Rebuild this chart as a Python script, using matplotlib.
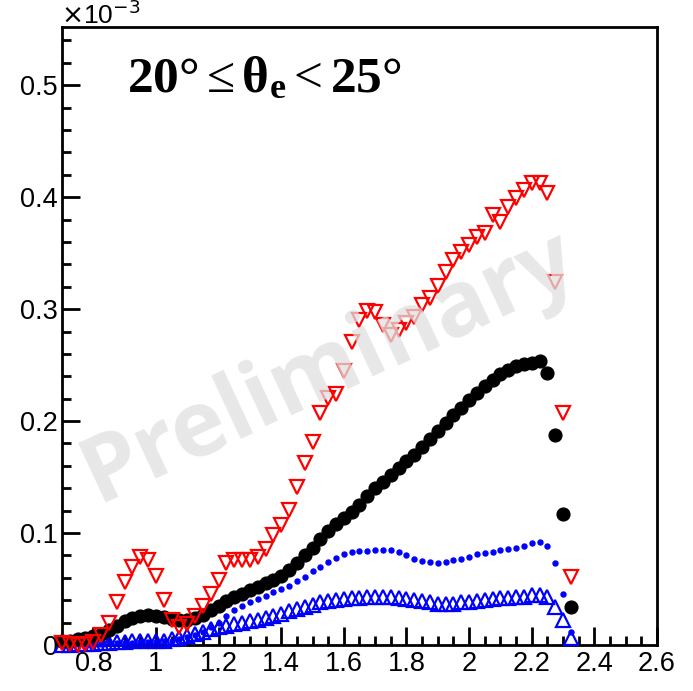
import matplotlib
matplotlib.use("Agg")
import matplotlib.pyplot as plt
from matplotlib.ticker import FixedLocator, MultipleLocator
import numpy as np

plt.rcParams['font.family'] = ['Liberation Sans', 'DejaVu Sans']
plt.rcParams['mathtext.fontset'] = 'custom'
plt.rcParams['mathtext.rm'] = 'Liberation Serif'
plt.rcParams['mathtext.bf'] = 'Liberation Serif:bold'
plt.rcParams['mathtext.it'] = 'Liberation Serif:italic'

# bin centres (W, GeV)
w_bins = np.round(0.7 + 0.025 * np.arange(66), 4)

# yields, in units of 1e-3
data_yield = [
    0.004, 0.004, 0.005, 0.006, 0.008, 0.010, 0.013, 0.017, 0.021, 0.024,
    0.026, 0.027, 0.026, 0.025, 0.023, 0.022, 0.022, 0.024, 0.027, 0.031,
    0.035, 0.039, 0.043, 0.046, 0.049, 0.052, 0.055, 0.058, 0.062, 0.067,
    0.073, 0.080, 0.087, 0.095, 0.102, 0.108, 0.113, 0.119, 0.125, 0.133,
    0.140, 0.146, 0.152, 0.158, 0.164, 0.170, 0.177, 0.184, 0.191, 0.198,
    0.205, 0.212, 0.219, 0.225, 0.231, 0.237, 0.242, 0.246, 0.249, 0.251,
    0.252, 0.254, 0.243, 0.188, 0.117, 0.034,
]

corrected_yield = [
    0.002, 0.001, 0.000, 0.001, 0.003, 0.009, 0.020, 0.038, 0.056, 0.070,
    0.079, 0.076, 0.062, 0.040, 0.022, 0.016, 0.019, 0.026, 0.035, 0.046,
    0.058, 0.073, 0.076, 0.076, 0.076, 0.079, 0.086, 0.098, 0.107, 0.121,
    0.141, 0.163, 0.181, 0.207, 0.221, 0.224, 0.245, 0.271, 0.290, 0.298,
    0.297, 0.286, 0.277, 0.281, 0.288, 0.293, 0.304, 0.310, 0.321, 0.333,
    0.344, 0.351, 0.357, 0.364, 0.368, 0.384, 0.378, 0.391, 0.399, 0.406,
    0.413, 0.413, 0.404, 0.324, 0.207, 0.061,
]

sim_yield = [
    0.001, 0.001, 0.001, 0.001, 0.001, 0.001, 0.002, 0.002, 0.002, 0.002,
    0.003, 0.003, 0.003, 0.004, 0.004, 0.005, 0.007, 0.009, 0.012, 0.016,
    0.020, 0.026, 0.031, 0.035, 0.038, 0.041, 0.044, 0.047, 0.050, 0.053,
    0.057, 0.061, 0.066, 0.070, 0.074, 0.078, 0.081, 0.083, 0.084, 0.084,
    0.085, 0.085, 0.085, 0.083, 0.080, 0.077, 0.075, 0.074, 0.073, 0.074,
    0.076, 0.077, 0.079, 0.081, 0.082, 0.083, 0.085, 0.086, 0.087, 0.088,
    0.091, 0.092, 0.088, 0.073, 0.046, 0.012,
]

rec_yield = [
    0.000, 0.000, 0.001, 0.001, 0.001, 0.002, 0.002, 0.003, 0.003, 0.004,
    0.004, 0.004, 0.004, 0.004, 0.005, 0.006, 0.008, 0.010, 0.012, 0.014,
    0.016, 0.017, 0.019, 0.020, 0.021, 0.022, 0.024, 0.026, 0.028, 0.030,
    0.032, 0.034, 0.036, 0.038, 0.039, 0.040, 0.041, 0.042, 0.042, 0.043,
    0.043, 0.043, 0.043, 0.042, 0.041, 0.040, 0.039, 0.038, 0.037, 0.037,
    0.037, 0.038, 0.038, 0.039, 0.040, 0.041, 0.042, 0.042, 0.043, 0.043,
    0.045, 0.045, 0.043, 0.034, 0.022, 0.006,
]

x_ticks = [0.8, 1.0, 1.2, 1.4, 1.6, 1.8, 2.0, 2.2, 2.4, 2.6]
x_labels = ["0.8", "1", "1.2", "1.4", "1.6", "1.8", "2", "2.2", "2.4", "2.6"]
y_ticks = [0.0, 0.1, 0.2, 0.3, 0.4, 0.5]
y_labels = ["0", "0.1", "0.2", "0.3", "0.4", "0.5"]

W, H = 693, 691
fig = plt.figure(figsize=(W / 100, H / 100), dpi=100)
ax = fig.add_axes([62 / W, 1 - 645 / H, (657 - 62) / W, (645 - 27) / H])

ax.plot(w_bins, sim_yield, linestyle='none', marker='o', ms=3.6,
        color='#0000ff', mec='#0000ff', clip_on=False, zorder=3)
ax.plot(w_bins, rec_yield, linestyle='none', marker='^', ms=9.5,
        mfc='none', mec='#0000ff', mew=1.6, clip_on=False, zorder=4)
ax.plot(w_bins, data_yield, linestyle='none', marker='o', ms=9.2,
        color='black', clip_on=False, zorder=5)
ax.plot(w_bins, corrected_yield, linestyle='none', marker='v', ms=10.5,
        mfc='none', mec='#ff0000', mew=1.6, clip_on=False, zorder=6)

ax.set_xlim(0.7, 2.6)
ax.set_ylim(0, 0.552)

ax.xaxis.set_major_locator(FixedLocator(x_ticks))
ax.set_xticklabels(x_labels)
ax.yaxis.set_major_locator(FixedLocator(y_ticks))
ax.set_yticklabels(y_labels)
ax.xaxis.set_minor_locator(MultipleLocator(0.05))
ax.yaxis.set_minor_locator(MultipleLocator(0.02))

ax.tick_params(which='both', direction='in', top=False, right=False,
               width=2.0, color='black', labelsize=19.5)
ax.tick_params(which='major', length=13)
ax.tick_params(which='minor', length=6.5)
ax.tick_params(axis='x', pad=4)
ax.tick_params(axis='y', pad=3)
for s in ax.spines.values():
    s.set_linewidth(2.0)

# exponent of the y scale
fig.text(61 / W, 1 - 24 / H, r"$\times$10$^{-3}$", fontsize=19,
         ha='left', va='baseline', family=['Liberation Sans', 'DejaVu Sans'],
         math_fontfamily='dejavusans')

# theta_e bin label
fig.text(127 / W, 1 - 92 / H,
         r"$\mathbf{20°}\leq\mathbf{θ_{e}}<\mathbf{25°}$",
         fontsize=37, ha='left', va='baseline')

# watermark
ax.text(0.45, 0.45, "Preliminary", transform=ax.transAxes,
        fontsize=66, fontweight='bold', family=['Open Sans', 'DejaVu Sans'],
        color='#e0e0e0', alpha=0.75, rotation=25,
        ha='center', va='center', zorder=10)

fig.savefig("out.png", dpi=100)
